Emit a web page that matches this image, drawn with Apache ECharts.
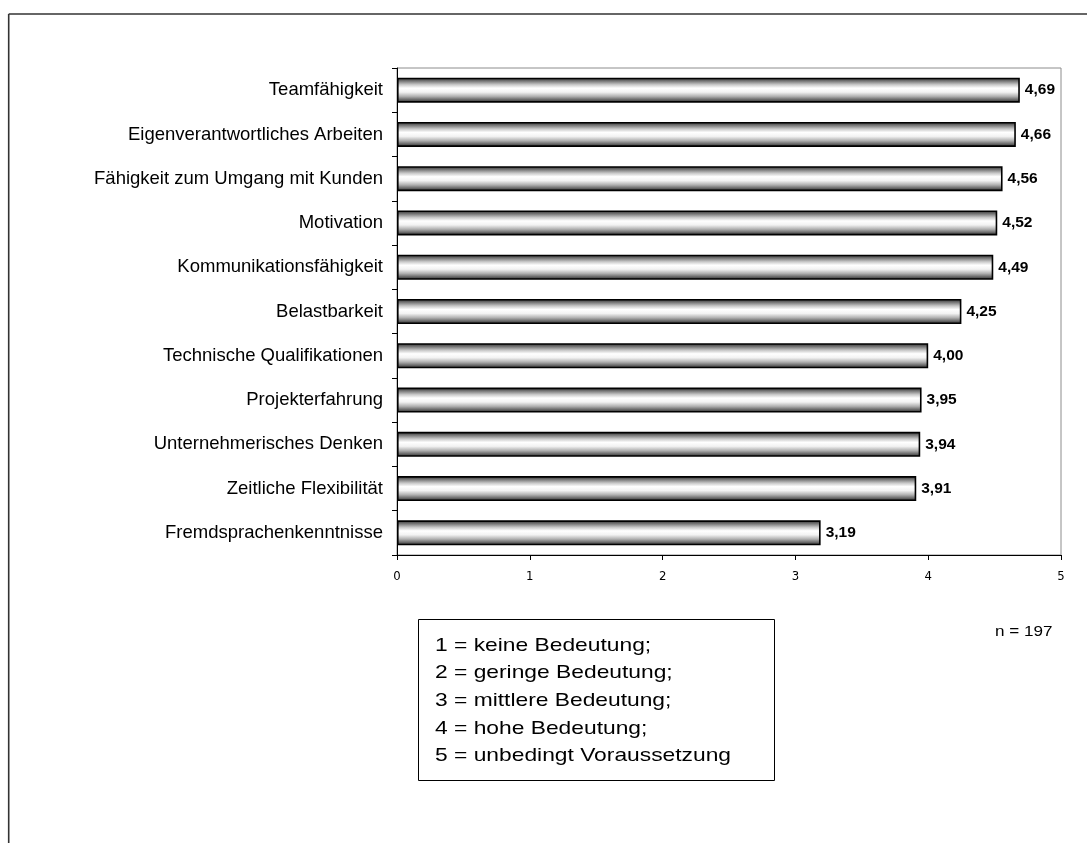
<!DOCTYPE html>
<html>
<head>
<meta charset="utf-8">
<title>Bedeutung von Kompetenzen</title>
<script src="https://cdn.jsdelivr.net/npm/echarts@6/dist/echarts.min.js"></script>
<style>
  html, body { margin: 0; padding: 0; background: #fff; }
  #chart { width: 1087px; height: 843px; }
</style>
</head>
<body>
<div id="chart"></div>
<script>
// Kompetenzen (top to bottom) and their mean importance ratings
const categories = [
  'Teamfähigkeit',
  'Eigenverantwortliches Arbeiten',
  'Fähigkeit zum Umgang mit Kunden',
  'Motivation',
  'Kommunikationsfähigkeit',
  'Belastbarkeit',
  'Technische Qualifikationen',
  'Projekterfahrung',
  'Unternehmerisches Denken',
  'Zeitliche Flexibilität',
  'Fremdsprachenkenntnisse'
];
const ratings = [4.69, 4.66, 4.56, 4.52, 4.49, 4.25, 4.00, 3.95, 3.94, 3.91, 3.19];
const xTicks = [0, 1, 2, 3, 4, 5];
const scaleLines = [
  '1 = keine Bedeutung;',
  '2 = geringe Bedeutung;',
  '3 = mittlere Bedeutung;',
  '4 = hohe Bedeutung;',
  '5 = unbedingt Voraussetzung'
];
const sampleNote = 'n = 197';

const chart = echarts.init(document.getElementById('chart'));

const SANS = '"Liberation Sans", Arial, sans-serif';

// cylinder-like shading of the bars
const barFill = new echarts.graphic.LinearGradient(0, 0, 0, 1, [
  { offset: 0.0, color: '#2a2a2a' },
  { offset: 0.12, color: '#6e6e6e' },
  { offset: 0.28, color: '#c8c8c8' },
  { offset: 0.42, color: '#ffffff' },
  { offset: 0.58, color: '#f2f2f2' },
  { offset: 0.75, color: '#b0b0b0' },
  { offset: 0.9, color: '#5e5e5e' },
  { offset: 1.0, color: '#2a2a2a' }
]);

// scale explanation, slightly widened type
const legendTexts = scaleLines.map((t, i) => ({
  type: 'text',
  x: 435,
  y: 645.5 + i * 27.6,
  scaleX: 1.2,
  style: { text: t, font: '19px ' + SANS, fill: '#000', verticalAlign: 'middle', align: 'left' }
}));

chart.setOption({
  animation: false,
  backgroundColor: '#fff',
  grid: {
    left: 397, right: 26, top: 68, bottom: 288,
    show: true, borderColor: '#8c8c8c', borderWidth: 1, backgroundColor: 'transparent'
  },
  xAxis: {
    type: 'value',
    min: xTicks[0],
    max: xTicks[xTicks.length - 1],
    interval: 1,
    splitLine: { show: false },
    axisLine: { show: true, lineStyle: { color: '#000', width: 1 } },
    axisTick: { show: true, length: 5, lineStyle: { color: '#000' } },
    axisLabel: {
      margin: 15,
      color: '#000',
      fontSize: 13,
      fontFamily: '"DejaVu Sans Condensed", "DejaVu Sans", sans-serif',
      formatter: v => String(v)
    }
  },
  yAxis: {
    type: 'category',
    data: categories,
    inverse: true,
    axisLine: { show: true, lineStyle: { color: '#000', width: 1 } },
    axisTick: { show: true, length: 5, lineStyle: { color: '#000' } },
    axisLabel: {
      margin: 14,
      color: '#000',
      fontSize: 18.5,
      fontFamily: SANS
    }
  },
  series: [{
    type: 'bar',
    data: ratings,
    barWidth: 25,
    itemStyle: { color: barFill, borderColor: '#000', borderWidth: 1.6 },
    label: {
      show: true,
      position: 'right',
      distance: 5,
      color: '#000',
      fontSize: 15.5,
      fontWeight: 'bold',
      fontFamily: SANS,
      formatter: p => p.value.toFixed(2).replace('.', ',')
    }
  }],
  graphic: [
    // outer frame (top and left edges)
    { type: 'line', shape: { x1: 8.7, y1: 14, x2: 1087, y2: 14 }, style: { stroke: '#333', lineWidth: 1.6 } },
    { type: 'line', shape: { x1: 8.7, y1: 14, x2: 8.7, y2: 843 }, style: { stroke: '#333', lineWidth: 1.6 } },
    // scale explanation box
    { type: 'rect', shape: { x: 418.5, y: 619.5, width: 356, height: 161 }, style: { fill: '#fff', stroke: '#000', lineWidth: 1 } },
    ...legendTexts,
    {
      type: 'text', x: 995, y: 631.5, scaleX: 1.14,
      style: { text: sampleNote, font: '15px ' + SANS, fill: '#000', verticalAlign: 'middle', align: 'left' }
    }
  ]
});
</script>
</body>
</html>
